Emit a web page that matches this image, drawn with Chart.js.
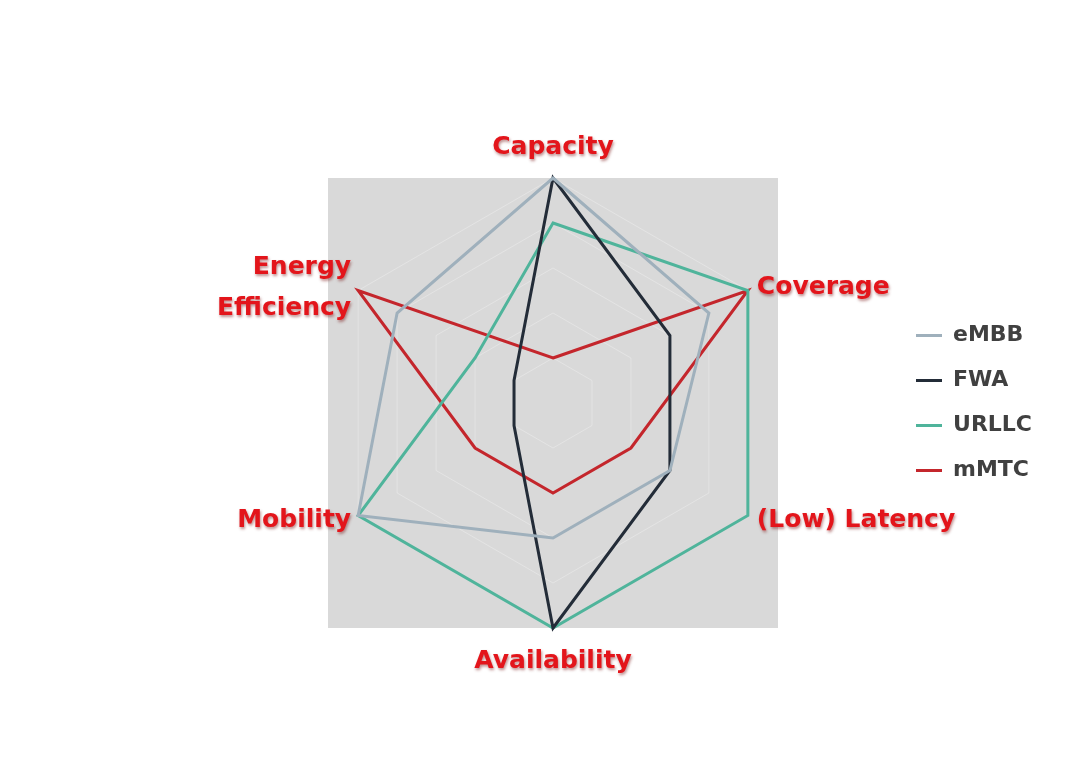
<!DOCTYPE html>
<html>
<head>
<meta charset="utf-8">
<script src="https://cdn.jsdelivr.net/npm/chart.js@4"></script>
<style>
  html, body { margin: 0; padding: 0; background: #fff; }
</style>
</head>
<body>
<canvas id="chart" width="1080" height="779"></canvas>
<script>
// axes of the radar, clockwise from the top
const categories = ['Capacity', 'Coverage', '(Low) Latency', 'Availability', 'Mobility', ['Energy', 'Efficiency']];

// scores on a 0..5 scale
const embb  = [5, 4, 3, 3, 5, 4];
const fwa   = [5, 3, 3, 5, 1, 1];
const urllc = [4, 5, 5, 5, 5, 2];
const mmtc  = [1, 5, 2, 2, 2, 5];

const seriesNames = ['eMBB', 'FWA', 'URLLC', 'mMTC'];
const seriesColors = ['#9fb0bc', '#232c38', '#4fb49b', '#c4262c'];

// grey square behind the hexagon
const squareBackground = {
	id: 'squareBackground',
	beforeDraw(chart) {
		const s = chart.scales.r;
		const ctx = chart.ctx;
		ctx.save();
		ctx.fillStyle = '#d9d9d9';
		ctx.fillRect(s.xCenter - s.drawingArea, s.yCenter - s.drawingArea, s.drawingArea * 2, s.drawingArea * 2);
		ctx.restore();
	},
};

// big red axis names, centred on the corners like the original
const axisLabels = {
	id: 'axisLabels',
	afterDraw(chart) {
		const s = chart.scales.r;
		const ctx = chart.ctx;
		ctx.save();
		ctx.font = 'bold 25px "DejaVu Sans"';
		ctx.fillStyle = '#e3151b';
		ctx.shadowColor = 'rgba(110, 0, 0, 0.45)';
		ctx.shadowBlur = 3;
		ctx.shadowOffsetX = 1;
		ctx.shadowOffsetY = 2;
		ctx.textBaseline = 'middle';
		chart.data.labels.forEach((label, i) => {
			const p = s.getPointPosition(i, s.drawingArea);
			const dx = p.x - s.xCenter;
			const lines = [].concat(label);
			let x = p.x;
			let y = p.y;
			if (Math.abs(dx) < 1) {
				ctx.textAlign = 'center';
				y += p.y < s.yCenter ? -31 : 33;
			} else {
				ctx.textAlign = dx > 0 ? 'left' : 'right';
				x += dx > 0 ? 9 : -7;
				y += p.y < s.yCenter ? -3 : 5;
			}
			lines.forEach((t, k) => {
				ctx.fillText(t, x, y + (k - (lines.length - 1) / 2) * 41);
			});
		});
		ctx.restore();
	},
};

const values = [embb, fwa, urllc, mmtc];

new Chart(document.getElementById('chart'), {
	type: 'radar',
	data: {
		labels: categories,
		datasets: values.map((v, i) => ({
			label: seriesNames[i],
			data: v,
			borderColor: seriesColors[i],
			backgroundColor: seriesColors[i],
			borderWidth: 3,
			fill: false,
			pointRadius: 0,
			pointHoverRadius: 0,
			tension: 0,
		})),
	},
	options: {
		responsive: false,
		animation: false,
		layout: {
			padding: { top: 178, bottom: 151, left: 213, right: 38 },
		},
		scales: {
			r: {
				min: 0,
				max: 5,
				ticks: { display: false, stepSize: 1 },
				grid: { color: 'rgba(255, 255, 255, 0.28)', lineWidth: 1 },
				angleLines: { display: false },
				pointLabels: { display: false },
			},
		},
		plugins: {
			legend: {
				position: 'right',
				labels: {
					usePointStyle: true,
					pointStyle: 'line',
					pointStyleWidth: 26,
					padding: 23,
					color: '#404040',
					font: { family: 'DejaVu Sans', size: 22, weight: 'bold' },
				},
			},
			tooltip: { enabled: false },
		},
	},
	plugins: [squareBackground, axisLabels],
});
</script>
</body>
</html>
